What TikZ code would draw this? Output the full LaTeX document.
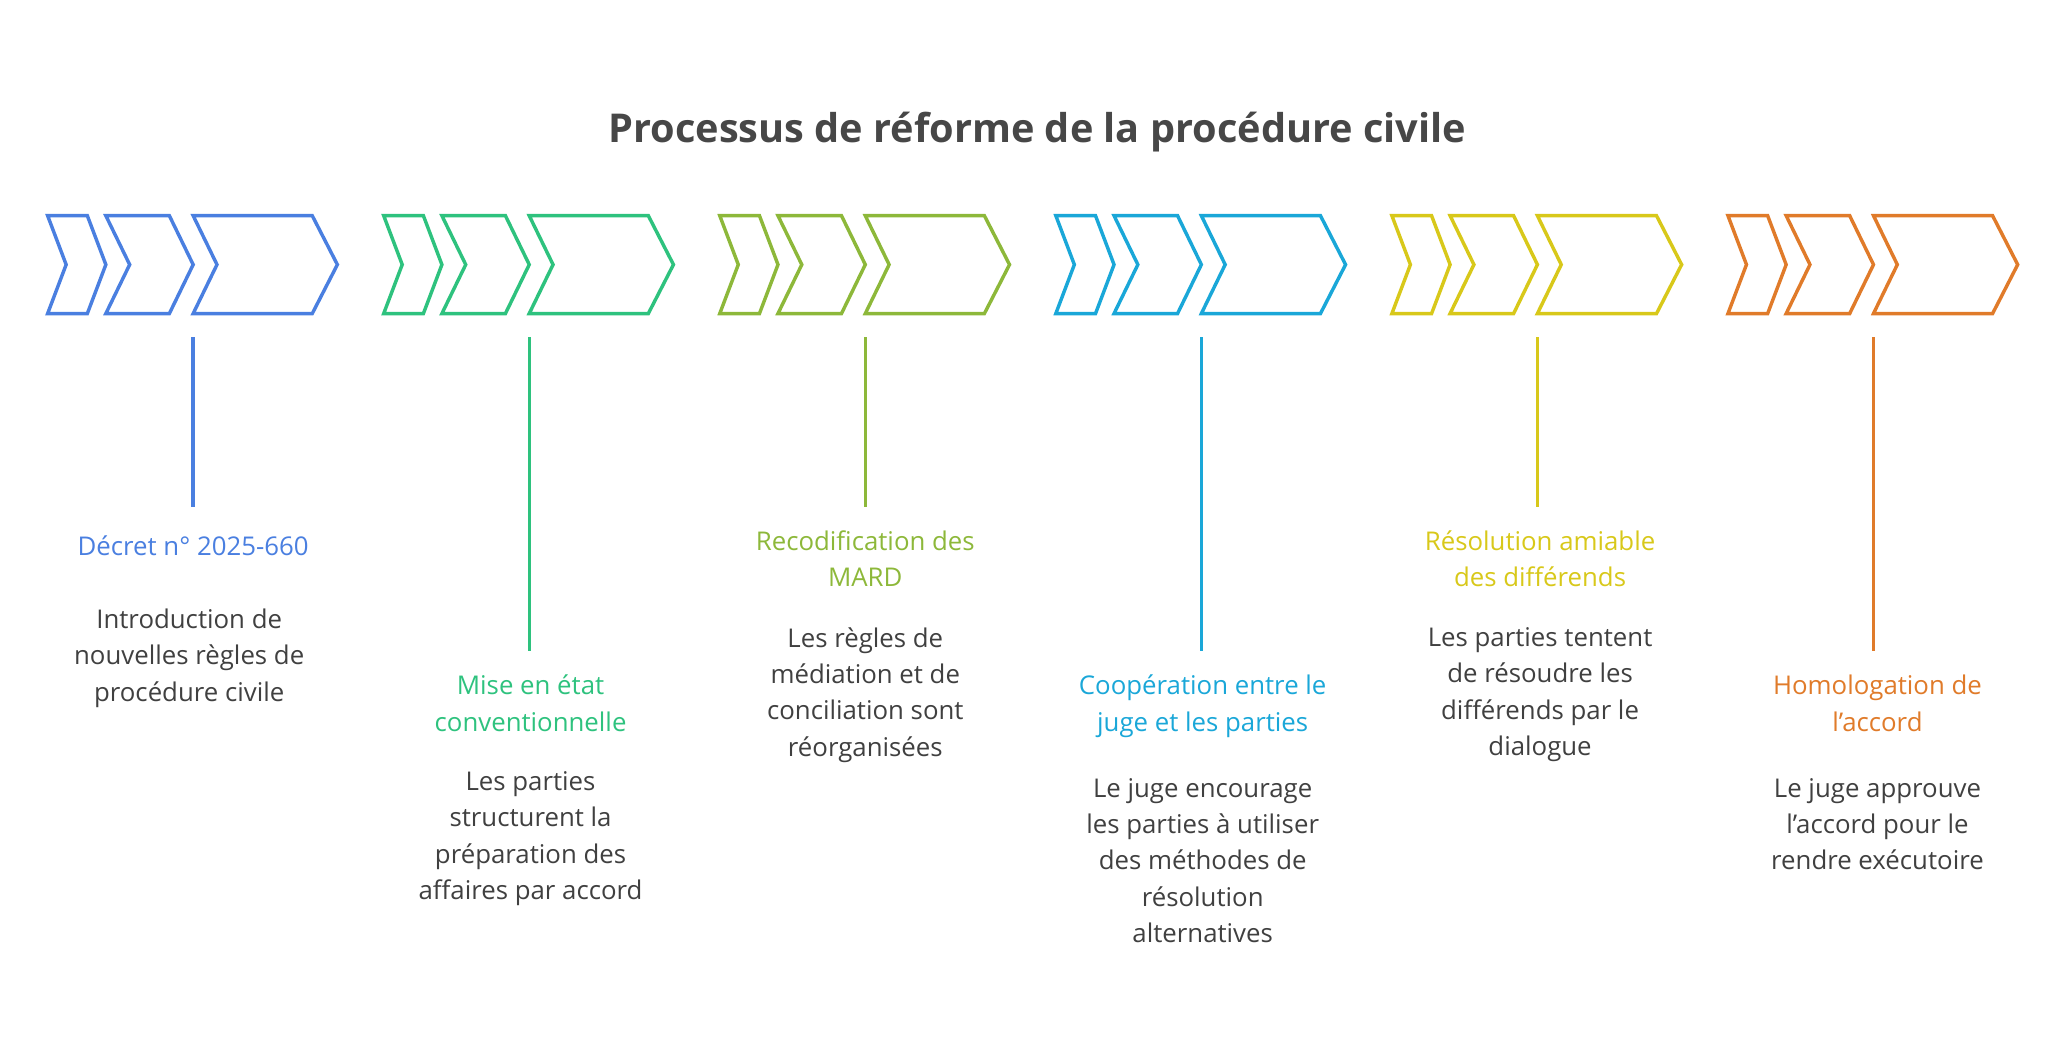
\documentclass[tikz,border=0pt]{standalone}
\usepackage{fontspec}
\setmainfont{Open Sans}
\begin{document}
\begin{tikzpicture}[x=1pt,y=-1pt,
  chev/.style={line width=2.6pt,line join=miter},
  stem/.style={line width=2.6pt},
  ttl/.style={anchor=north,align=center,inner sep=0pt,font=\fontsize{19.5}{27.5}\selectfont},
  dsc/.style={anchor=north,align=center,inner sep=0pt,text=black!75,font=\fontsize{19.5}{27.5}\selectfont}]
\definecolor{c1}{HTML}{4A7FE0}
\definecolor{c2}{HTML}{2EC27E}
\definecolor{c3}{HTML}{8DB83A}
\definecolor{c4}{HTML}{1AA7D8}
\definecolor{c5}{HTML}{D8C81A}
\definecolor{c6}{HTML}{E07B2A}
\useasboundingbox (0,0) rectangle (1560,798);
\node[font=\bfseries\fontsize{30}{36}\selectfont,text=black!72] (title) at (784,100) {Processus de réforme de la procédure civile};
\foreach \i/\c/\len in {0/c1/383,1/c2/492,2/c3/383,3/c4/492,4/c5/383,5/c6/492}{
  \begin{scope}[xshift=\i*254]
    \draw[chev,\c] (36,163)--(66,163)--(80,200)--(66,237)--(36,237)--(50,200)--cycle;
    \draw[chev,\c] (80,163)--(128,163)--(146,200)--(128,237)--(80,237)--(98,200)--cycle;
    \draw[chev,\c] (146,163)--(236,163)--(255,200)--(236,237)--(146,237)--(164,200)--cycle;
    \coordinate (s\i) at (146,255);
    \coordinate (e\i) at (146,\len);
    \draw[stem,\c] (s\i)--(e\i);
  \end{scope}}
\node[ttl,text=c1] (t1) at (146,405) {Décret n° 2025-660};
\node[dsc] (d1) at (143,460) {Introduction de\\nouvelles règles de\\procédure civile};
\node[ttl,text=c2] (t2) at (401,510) {Mise en état\\conventionnelle};
\node[dsc] (d2) at (401,583) {Les parties\\structurent la\\préparation des\\affaires par accord};
\node[ttl,text=c3] (t3) at (654,401) {Recodification des\\MARD};
\node[dsc] (d3) at (654,474) {Les règles de\\médiation et de\\conciliation sont\\réorganisées};
\node[ttl,text=c4] (t4) at (909,510) {Coopération entre le\\juge et les parties};
\node[dsc] (d4) at (909,588) {Le juge encourage\\les parties à utiliser\\des méthodes de\\résolution\\alternatives};
\node[ttl,text=c5] (t5) at (1164,401) {Résolution amiable\\des différends};
\node[dsc] (d5) at (1164,474) {Les parties tentent\\de résoudre les\\différends par le\\dialogue};
\node[ttl,text=c6] (t6) at (1419,510) {Homologation de\\l\symbol{39}accord};
\node[dsc] (d6) at (1419,588) {Le juge approuve\\l\symbol{39}accord pour le\\rendre exécutoire};
\end{tikzpicture}
\end{document}
